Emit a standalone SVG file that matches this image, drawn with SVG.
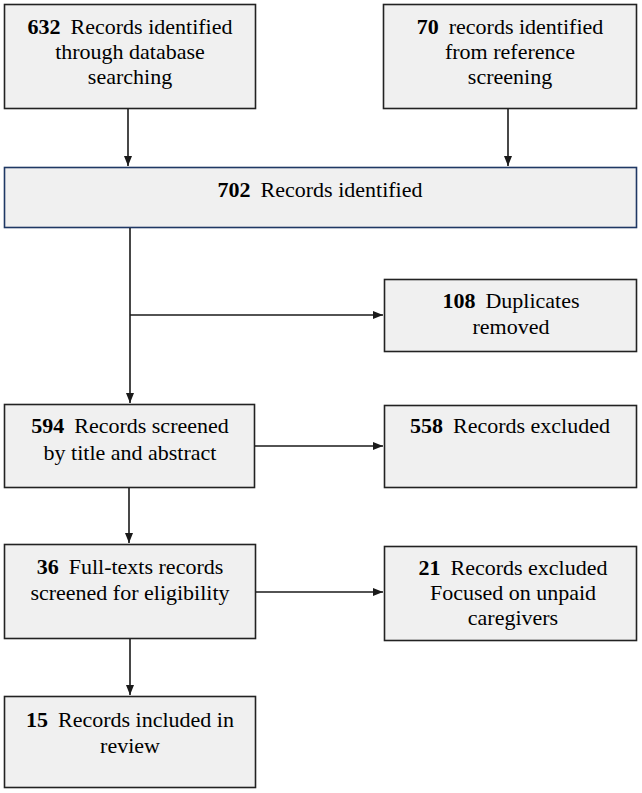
<svg xmlns="http://www.w3.org/2000/svg" width="642" height="793" viewBox="0 0 642 793">
<defs>
<marker id="ah" markerWidth="10" markerHeight="8" refX="10" refY="4" orient="auto" markerUnits="userSpaceOnUse">
<path d="M0,0 L10,4 L0,8 Z" fill="#1a1a1a"/>
</marker>
</defs>
<rect width="642" height="793" fill="#fff"/>
<g id="n632"><rect fill="#f0f0f0" stroke="#222" stroke-width="1.6" x="4.5" y="4.5" width="251" height="104"/>
<text font-family="Liberation Serif" font-size="22" text-anchor="middle" x="130" y="34"><tspan font-weight="bold">632</tspan><tspan dx="10">Records identified</tspan></text>
<text font-family="Liberation Serif" font-size="22" text-anchor="middle" x="130" y="59">through database</text>
<text font-family="Liberation Serif" font-size="22" text-anchor="middle" x="130" y="84">searching</text></g>
<g id="n70"><rect fill="#f0f0f0" stroke="#222" stroke-width="1.6" x="383.5" y="4.5" width="253" height="104"/>
<text font-family="Liberation Serif" font-size="22" text-anchor="middle" x="510" y="34"><tspan font-weight="bold">70</tspan><tspan dx="10">records identified</tspan></text>
<text font-family="Liberation Serif" font-size="22" text-anchor="middle" x="510" y="59">from reference</text>
<text font-family="Liberation Serif" font-size="22" text-anchor="middle" x="510" y="84">screening</text></g>
<g id="n702"><rect fill="#f0f0f0" stroke="#1f3864" stroke-width="1.6" x="4.5" y="167.5" width="632" height="60"/>
<text font-family="Liberation Serif" font-size="22" text-anchor="middle" x="320" y="197"><tspan font-weight="bold">702</tspan><tspan dx="10">Records identified</tspan></text></g>
<g id="n108"><rect fill="#f0f0f0" stroke="#222" stroke-width="1.6" x="384.5" y="279.5" width="252" height="72"/>
<text font-family="Liberation Serif" font-size="22" text-anchor="middle" x="511" y="308"><tspan font-weight="bold">108</tspan><tspan dx="10">Duplicates</tspan></text>
<text font-family="Liberation Serif" font-size="22" text-anchor="middle" x="511" y="334">removed</text></g>
<g id="n594"><rect fill="#f0f0f0" stroke="#222" stroke-width="1.6" x="4.5" y="404.5" width="250" height="83"/>
<text font-family="Liberation Serif" font-size="22" text-anchor="middle" x="130" y="433"><tspan font-weight="bold">594</tspan><tspan dx="10">Records screened</tspan></text>
<text font-family="Liberation Serif" font-size="22" text-anchor="middle" x="130" y="460">by title and abstract</text></g>
<g id="n558"><rect fill="#f0f0f0" stroke="#222" stroke-width="1.6" x="384.5" y="405.5" width="252" height="82"/>
<text font-family="Liberation Serif" font-size="22" text-anchor="middle" x="510" y="433"><tspan font-weight="bold">558</tspan><tspan dx="10">Records excluded</tspan></text></g>
<g id="n36"><rect fill="#f0f0f0" stroke="#222" stroke-width="1.6" x="4.5" y="544.5" width="251" height="94"/>
<text font-family="Liberation Serif" font-size="22" text-anchor="middle" x="130" y="574"><tspan font-weight="bold">36</tspan><tspan dx="10">Full-texts records</tspan></text>
<text font-family="Liberation Serif" font-size="22" text-anchor="middle" x="130" y="600">screened for eligibility</text></g>
<g id="n21"><rect fill="#f0f0f0" stroke="#222" stroke-width="1.6" x="384.5" y="546.5" width="252" height="94"/>
<text font-family="Liberation Serif" font-size="22" text-anchor="middle" x="513" y="575"><tspan font-weight="bold">21</tspan><tspan dx="10">Records excluded</tspan></text>
<text font-family="Liberation Serif" font-size="22" text-anchor="middle" x="513" y="600">Focused on unpaid</text>
<text font-family="Liberation Serif" font-size="22" text-anchor="middle" x="513" y="625">caregivers</text></g>
<g id="n15"><rect fill="#f0f0f0" stroke="#222" stroke-width="1.6" x="4.5" y="696.5" width="251" height="91"/>
<text font-family="Liberation Serif" font-size="22" text-anchor="middle" x="130" y="727"><tspan font-weight="bold">15</tspan><tspan dx="10">Records included in</tspan></text>
<text font-family="Liberation Serif" font-size="22" text-anchor="middle" x="130" y="753">review</text></g>
<g id="connectors" stroke="#1a1a1a" stroke-width="1.6" fill="none">
<line x1="128" y1="109" x2="128" y2="166" marker-end="url(#ah)"/>
<line x1="508" y1="109" x2="508" y2="166" marker-end="url(#ah)"/>
<line x1="130" y1="228" x2="130" y2="403" marker-end="url(#ah)"/>
<line x1="130" y1="315" x2="383" y2="315" marker-end="url(#ah)"/>
<line x1="255" y1="446" x2="383" y2="446" marker-end="url(#ah)"/>
<line x1="129" y1="488" x2="129" y2="543" marker-end="url(#ah)"/>
<line x1="256" y1="592" x2="383" y2="592" marker-end="url(#ah)"/>
<line x1="130" y1="639" x2="130" y2="695" marker-end="url(#ah)"/>
</g>
</svg>
